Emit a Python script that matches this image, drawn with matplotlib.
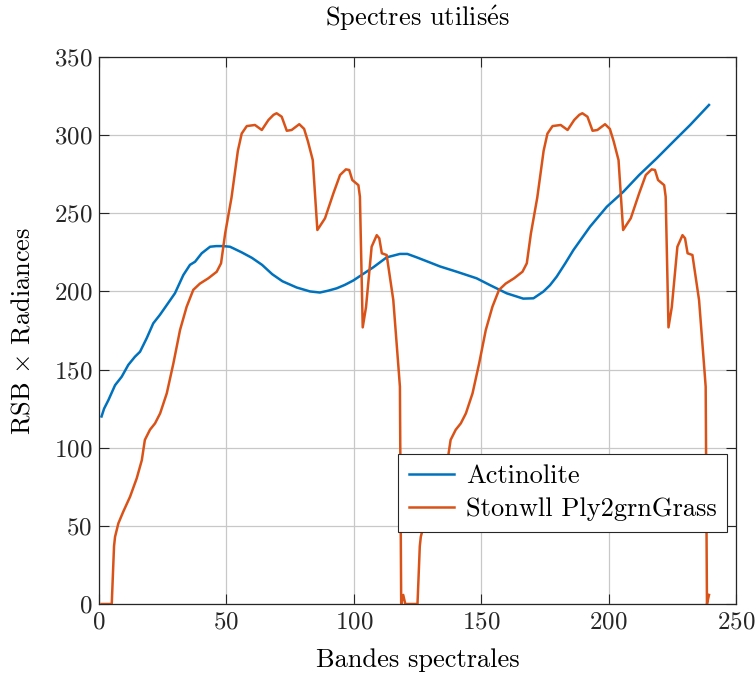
import matplotlib
matplotlib.use("Agg")
import matplotlib.pyplot as plt

plt.rcParams['font.family'] = ['cmr10', 'DejaVu Serif']
plt.rcParams['mathtext.fontset'] = 'cm'
plt.rcParams['axes.unicode_minus'] = False
plt.rcParams['axes.formatter.use_mathtext'] = True

# Actinolite spectrum (band, value)
actinolite_x = [1, 2, 3.7, 6.3, 8.9, 11.5, 14.1, 16.1, 18.7, 21.3, 23.9, 26.6, 29.8, 33.1,
                35.7, 37.7, 40.3, 43.6, 46, 48.8, 51.4, 52.7, 56, 60, 64, 68, 72, 77.6,
                82.8, 86.7, 90, 93.3, 96.5, 99.8, 103.5, 107.7, 112.9, 118.1, 121, 124.7,
                129.9, 133.8, 140.4, 148.2, 153.5, 160, 166.5, 170.5, 174.4, 177, 179.6,
                183, 186.2, 192.7, 199.3, 205.8, 212, 218.9, 225.5, 232, 239.4]
actinolite_y = [120, 125, 130.5, 140, 145.4, 153, 158.2, 161.4, 170, 179.6, 185, 191.3, 198.8,
                210.5, 217, 219, 224.4, 228.6, 229, 229, 228.6, 227.6, 225, 221.5, 217, 211,
                206.5, 202.5, 200, 199.3, 200.5, 202, 204.2, 207, 211, 215.5, 221.8, 224, 224,
                221.8, 218.5, 216, 212.6, 208.4, 204, 198.8, 195.4, 195.6, 199.9, 204, 209.4,
                218, 226.5, 241.4, 254.2, 263.8, 274.5, 285.2, 296, 306.5, 319.3]

# Stonwll Ply2grnGrass spectrum (band, value)
stonewall_x = [1, 5, 5.9, 6.3, 7.6, 9.5, 12.2, 14.8, 16.8, 18, 20, 22, 24, 26.6, 29.2, 31.8,
               34.4, 37, 39.6, 42.9, 46.2, 47.9, 49.5, 52, 54.5, 56, 58, 61.2, 63.9, 66.5,
               68.5, 69.7, 71.7, 73.7, 75.6, 78.6, 80.5, 82, 83.9, 85.7, 88.7, 92, 94.6,
               96.9, 98.2, 99.4, 101.8, 102.4, 103.5, 104.8, 107, 109, 110, 111, 112.9,
               115.5, 117.5, 118.1, 118.6, 119.4, 120.2,
               125, 125.9, 126.3, 127.6, 129.5, 132.2, 134.8, 136.8, 138, 140, 142, 144,
               146.6, 149.2, 151.8, 154.4, 157, 159.6, 162.9, 166.2, 167.9, 169.5, 172,
               174.5, 176, 178, 181.2, 183.9, 186.5, 188.5, 189.7, 191.7, 193.7, 195.6,
               198.6, 200.5, 202, 203.9, 205.7, 208.7, 212, 214.6, 216.9, 218.2, 219.4,
               221.8, 222.4, 223.5, 224.8, 227, 229, 230, 231, 232.9, 235.5, 237.5, 238.1,
               238.6, 239.4]
stonewall_y = [0, 0, 37, 43, 51.6, 59, 68.7, 80.4, 92, 105, 111.5, 115.6, 122, 134.8, 154,
               175.3, 190.2, 201, 205, 208.4, 212.6, 218, 237, 260, 290, 301, 305.8, 306.5,
               303.3, 309.7, 313, 314, 311.8, 302.8, 303.3, 307, 304, 296, 284, 239.3, 246.8,
               262.8, 274.5, 278.1, 277.7, 271.3, 268, 260.6, 177, 190, 228.6, 236, 234,
               224.4, 223.3, 194.5, 152, 139, 0, 5.8, 0,
               0, 37, 43, 51.6, 59, 68.7, 80.4, 92, 105, 111.5, 115.6, 122, 134.8, 154,
               175.3, 190.2, 201, 205, 208.4, 212.6, 218, 237, 260, 290, 301, 305.8, 306.5,
               303.3, 309.7, 313, 314, 311.8, 302.8, 303.3, 307, 304, 296, 284, 239.3, 246.8,
               262.8, 274.5, 278.1, 277.7, 271.3, 268, 260.6, 177, 190, 228.6, 236, 234,
               224.4, 223.3, 194.5, 152, 139, 0, 5.8]

labels = ['Actinolite', 'Stonwll Ply2grnGrass']
colors = ['#0072BD', '#D95319']
x_ticks = [0, 50, 100, 150, 200, 250]
y_ticks = [0, 50, 100, 150, 200, 250, 300, 350]

fig = plt.figure(figsize=(7.56, 6.75), dpi=100)
ax = fig.add_axes([99/756, 1 - 604/675, 637/756, 547/675])

ax.plot(actinolite_x, actinolite_y, color=colors[0], lw=1.8, label=labels[0])
ax.plot(stonewall_x, stonewall_y, color=colors[1], lw=1.8, label=labels[1])

ax.set_xlim(0, 250)
ax.set_ylim(0, 350)
ax.set_xticks(x_ticks)
ax.set_yticks(y_ticks)
ax.grid(True, color='#c8c8c8', lw=0.9)
ax.set_axisbelow(True)
ax.tick_params(direction='in', length=7, width=0.8, colors='#262626', labelsize=18,
               top=True, right=True, pad=5)
for s in ax.spines.values():
    s.set_color('#262626')
    s.set_linewidth(0.9)

ax.set_title(r'Spectres utilis$\acute{\mathrm{e}}$s', fontsize=19, pad=22)
ax.set_xlabel('Bandes spectrales', fontsize=19, labelpad=11)
ax.set_ylabel(r'RSB $\times$ Radiances', fontsize=19, labelpad=14)

leg = ax.legend(loc='lower right', bbox_to_anchor=(0.986, 0.1316), fontsize=19,
                frameon=True, fancybox=False, framealpha=1, edgecolor='#262626',
                handlelength=1.7, borderpad=0.4, labelspacing=0.35, handletextpad=0.45,
                borderaxespad=0)
leg.get_frame().set_linewidth(0.8)

fig.savefig('out.png', dpi=100)
